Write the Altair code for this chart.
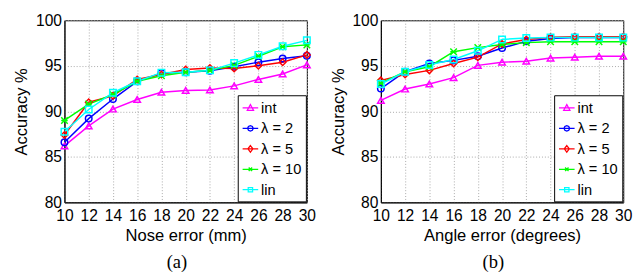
import altair as alt
import pandas as pd

x_vals = [10, 12, 14, 16, 18, 20, 22, 24, 26, 28, 30]
series_names = ["int", "λ = 2", "λ = 5", "λ = 10", "lin"]
series_colors = ["#ff00ff", "#0000ff", "#ff0000", "#00ff00", "#00ffff"]

nose_int = [86.2, 88.4, 90.25, 91.3, 92.1, 92.3, 92.35, 92.8, 93.5, 94.1, 95.1]
nose_l2 = [86.6, 89.2, 91.35, 93.3, 94.2, 94.3, 94.45, 94.9, 95.4, 95.8, 96.1]
nose_l5 = [87.4, 91.0, 91.7, 93.5, 94.05, 94.6, 94.75, 94.7, 95.0, 95.4, 96.2]
nose_l10 = [89.0, 90.8, 91.85, 93.3, 93.9, 94.3, 94.5, 95.05, 96.05, 97.1, 97.3]
nose_lin = [87.75, 90.2, 92.05, 93.3, 94.25, 94.3, 94.5, 95.3, 96.2, 97.15, 97.8]

angle_int = [91.2, 92.45, 93.0, 93.7, 95.05, 95.4, 95.5, 95.85, 95.95, 96.05, 96.05]
angle_l2 = [92.5, 94.35, 95.25, 95.6, 96.05, 96.95, 97.7, 98.0, 98.1, 98.1, 98.1]
angle_l5 = [93.4, 94.05, 94.5, 95.25, 95.95, 97.4, 97.9, 98.15, 98.2, 98.2, 98.2]
angle_l10 = [93.1, 94.35, 94.9, 96.55, 97.0, 97.35, 97.55, 97.65, 97.65, 97.65, 97.65]
angle_lin = [93.0, 94.35, 95.1, 95.7, 96.65, 97.9, 98.05, 98.1, 98.1, 98.1, 98.1]

y_ticks = [80, 85, 90, 95, 100]

# marker shapes (plot) and legend symbols (line + marker)
marker_paths = [
    "triangle-up",
    "circle",
    "diamond",
    "M-1,-1L1,1M-1,1L1,-1M-1,0L1,0",
    "square",
]
legend_paths = [
    "M-1,0L1,0M0,-0.42L0.4,0.3L-0.4,0.3Z",
    "M-1,0L1,0M0.36,0L0.25,0.25L0,0.36L-0.25,0.25L-0.36,0L-0.25,-0.25L0,-0.36L0.25,-0.25Z",
    "M-1,0L1,0M0,-0.42L0.32,0L0,0.42L-0.32,0Z",
    "M-1,0L1,0M-0.22,-0.22L0.22,0.22M-0.22,0.22L0.22,-0.22",
    "M-1,0L1,0M-0.28,-0.28H0.28V0.28H-0.28Z",
]

FONT = "Liberation Sans"


def make_df(lists):
    rows = []
    for name, vals in zip(series_names, lists):
        for xv, yv in zip(x_vals, vals):
            rows.append({"x": xv, "acc": yv, "series": name})
    return pd.DataFrame(rows)


def legend_spec():
    return alt.Legend(title=None, orient="bottom-right", offset=1,
                      padding=4, strokeColor="black", fillColor="white",
                      labelFont=FONT, labelFontSize=15, labelColor="black",
                      symbolSize=256, symbolStrokeWidth=1.3,
                      symbolFillColor="transparent",
                      rowPadding=4, labelOffset=2, symbolOpacity=1)


def panel(df, xtitle, label):
    base = alt.Chart(df)
    xenc = alt.X("x:Q", scale=alt.Scale(domain=[10, 30], nice=False),
                 axis=alt.Axis(values=x_vals, title=xtitle, format="d"))
    yenc = alt.Y("acc:Q", scale=alt.Scale(domain=[80, 100], nice=False),
                 axis=alt.Axis(values=y_ticks, title="Accuracy %", format="d"))
    layers = []
    for name, col in zip(series_names, series_colors):
        ln = base.transform_filter(alt.datum.series == name).mark_line(
            color=col, strokeWidth=1.5
        ).encode(x=xenc, y=yenc)
        layers.append(ln)
    for name, col, path in zip(series_names, series_colors, marker_paths):
        pts = base.transform_filter(alt.datum.series == name).mark_point(
            shape=path, color=col, filled=False, strokeWidth=1.5, size=45, opacity=1
        ).encode(x=xenc, y=yenc)
        layers.append(pts)
    legend_layer = base.transform_filter(alt.datum.x == 10).mark_point(
        filled=False, strokeWidth=1.3, size=0, fill="transparent"
    ).encode(
        x=xenc, y=yenc,
        color=alt.Color("series:N",
                        scale=alt.Scale(domain=series_names, range=series_colors),
                        legend=legend_spec()),
        shape=alt.Shape("series:N",
                        scale=alt.Scale(domain=series_names, range=legend_paths),
                        legend=legend_spec()),
    )
    layers.append(legend_layer)
    return alt.layer(*layers).properties(
        width=249, height=187,
        title=alt.TitleParams(label, orient="bottom", font="Liberation Serif",
                              fontSize=19, fontWeight="normal", color="black",
                              offset=10, dx=-9),
    )


left = panel(make_df([nose_int, nose_l2, nose_l5, nose_l10, nose_lin]),
             "Nose error (mm)", "(a)")
right = panel(make_df([angle_int, angle_l2, angle_l5, angle_l10, angle_lin]),
              "Angle error (degrees)", "(b)")

chart = alt.hconcat(left, right, spacing=76, bounds="flush").resolve_scale(
    color="independent", shape="independent"
).resolve_legend(
    color="independent", shape="independent"
).properties(
    padding={"left": 4, "top": 0, "right": 0, "bottom": 0}
).configure_view(
    stroke="black", strokeWidth=1
).configure_axis(
    labelFont=FONT, labelFontSize=16, labelColor="black",
    titleFont=FONT, titleFontSize=17, titleColor="black", titleFontWeight="normal",
    domainColor="black", domainWidth=1,
    ticks=False, labelPadding=3, titlePadding=4,
    labelOverlap=False, labelFlush=False,
    grid=True, gridColor="#a8a8a8", gridDash=[1, 2], gridWidth=1, gridOpacity=1,
).configure_axisX(
    labelPadding=6
).configure_axisY(
    titlePadding=5
)

chart.save("out.html", embed_options={"renderer": "svg", "actions": False})
